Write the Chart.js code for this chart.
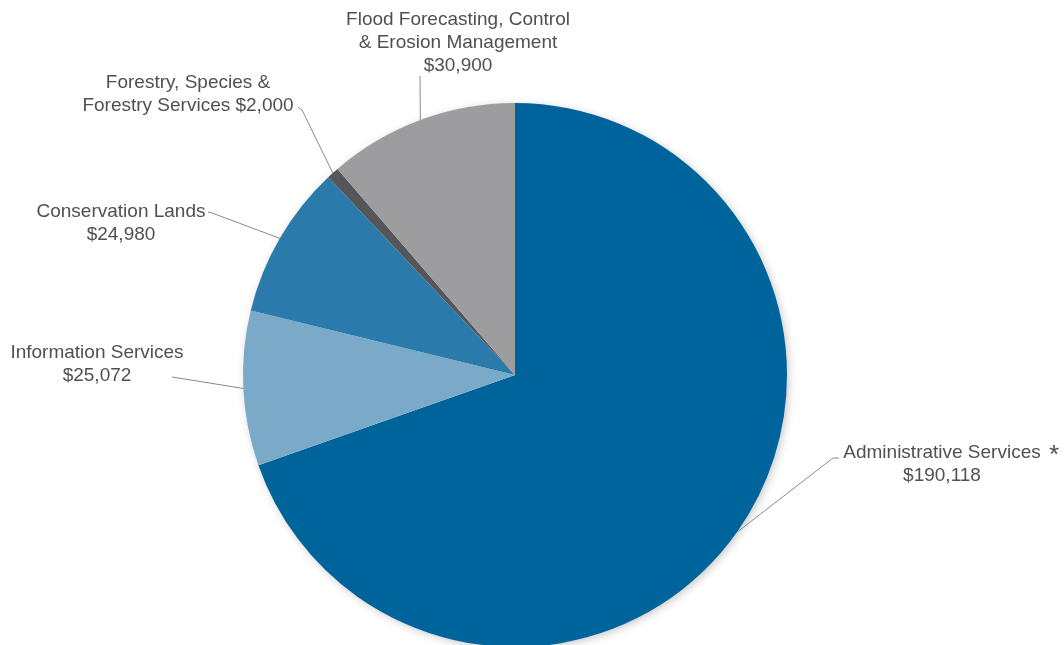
<!DOCTYPE html>
<html>
<head>
<meta charset="utf-8">
<script src="https://cdn.jsdelivr.net/npm/chart.js@4/dist/chart.umd.min.js"></script>
<style>
  html, body { margin: 0; padding: 0; background: #fff; overflow: hidden; }
  #wrap { width: 1064px; height: 660px; position: relative; }
</style>
</head>
<body>
<div id="wrap"><canvas id="pieChart"></canvas></div>
<script>
const categories = [
    'Administrative Services',
    'Information Services',
    'Conservation Lands',
    'Forestry, Species & Forestry Services',
    'Flood Forecasting, Control & Erosion Management'
];
const amounts = [190118, 25072, 24980, 2000, 30900];
const sliceColors = ['#00649c', '#7aaac8', '#2a7bab', '#555659', '#9d9d9f'];

// label text lines for each slice (amount appended on the last line)
const labelLines = [
    ['Administrative Services', '$'],
    ['Information Services', '$'],
    ['Conservation Lands', '$'],
    ['Forestry, Species &', 'Forestry Services $'],
    ['Flood Forecasting, Control', '& Erosion Management', '$']
];

const fmt = v => v.toLocaleString('en-US');

// where each label sits and how its leader line bends
const labelLayout = [
    { cx: 942, y: 453, elbow: [833, 458], end: [839, 458] },
    { cx: 97, y: 353, elbow: [172, 377], end: [172, 377] },
    { cx: 121, y: 212, elbow: [212, 213], end: [208, 212] },
    { cx: 188, y: 83, elbow: [302, 110], end: [298, 107] },
    { cx: 458, y: 20, elbow: [420, 76], end: [420, 76] }
];

// soft shadow under the whole pie, drawn once as a disc
const shadowPlugin = {
    id: 'pieShadow',
    beforeDatasetsDraw(chart) {
        const arc = chart.getDatasetMeta(0).data[0];
        if (!arc) return;
        const p = arc.getProps(['x', 'y', 'outerRadius'], true);
        const ctx = chart.ctx;
        ctx.save();
        ctx.shadowColor = 'rgba(0,0,0,0.25)';
        ctx.shadowBlur = 10;
        ctx.shadowOffsetX = 2;
        ctx.shadowOffsetY = 2;
        ctx.fillStyle = '#ffffff';
        ctx.beginPath();
        ctx.arc(p.x, p.y, p.outerRadius - 1, 0, Math.PI * 2);
        ctx.fill();
        ctx.restore();
    }
};

const labelPlugin = {
    id: 'pieLabels',
    afterDraw(chart) {
        const ctx = chart.ctx;
        const meta = chart.getDatasetMeta(0);
        ctx.save();
        ctx.font = '19px "Liberation Sans", Arial, sans-serif';
        ctx.fillStyle = '#505050';
        ctx.textAlign = 'center';
        ctx.textBaseline = 'middle';
        meta.data.forEach((arc, i) => {
            const p = arc.getProps(['x', 'y', 'startAngle', 'endAngle', 'outerRadius'], true);
            const mid = (p.startAngle + p.endAngle) / 2;
            const sx = p.x + Math.cos(mid) * p.outerRadius;
            const sy = p.y + Math.sin(mid) * p.outerRadius;
            const lay = labelLayout[i];
            ctx.strokeStyle = '#8a8a8a';
            ctx.lineWidth = 1;
            ctx.beginPath();
            ctx.moveTo(sx, sy);
            ctx.lineTo(lay.elbow[0], lay.elbow[1]);
            ctx.lineTo(lay.end[0], lay.end[1]);
            ctx.stroke();

            const lines = labelLines[i].slice();
            lines[lines.length - 1] += fmt(amounts[i]);
            lines.forEach((t, k) => {
                ctx.fillText(t, lay.cx, lay.y + k * 23);
            });
        });
        // asterisk next to Administrative Services
        ctx.font = '26px "Liberation Sans", Arial, sans-serif';
        ctx.fillText('*', 1054, 456);
        ctx.restore();
    }
};

const ctx = document.getElementById('pieChart').getContext('2d');
new Chart(ctx, {
    type: 'pie',
    data: {
        labels: categories,
        datasets: [{
            data: amounts,
            backgroundColor: sliceColors,
            borderWidth: 0,
            clip: false
        }]
    },
    options: {
        responsive: true,
        maintainAspectRatio: false,
        animation: false,
        layout: { padding: { top: 103, bottom: 13, left: 0, right: 34 } },
        plugins: {
            legend: { display: false },
            tooltip: { enabled: false }
        }
    },
    plugins: [shadowPlugin, labelPlugin]
});
</script>
</body>
</html>
